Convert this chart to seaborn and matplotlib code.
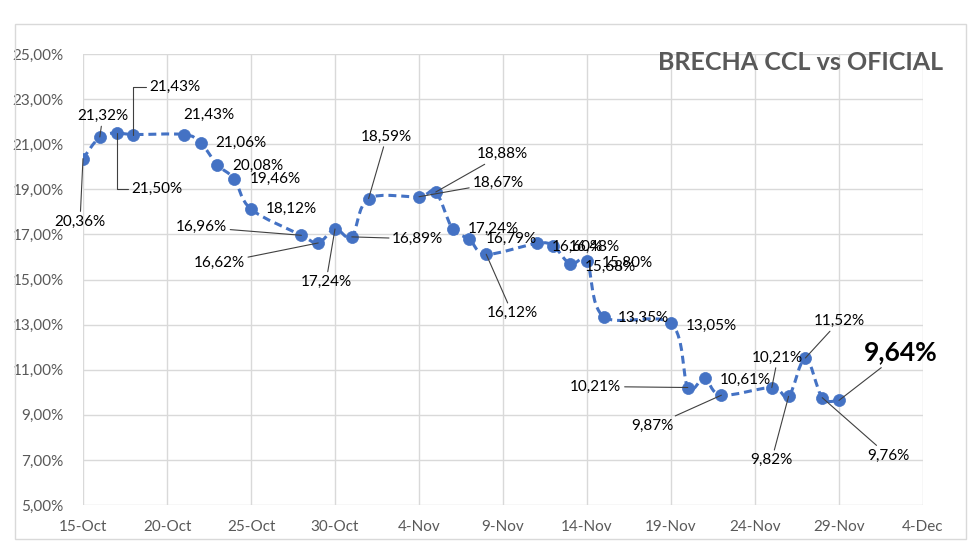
import matplotlib
matplotlib.use("Agg")
import matplotlib.pyplot as plt
import matplotlib.dates as mdates
from matplotlib.path import Path
from matplotlib.patches import PathPatch, Rectangle
import numpy as np
import pandas as pd
import seaborn as sns

# ---------------- data ----------------
dates = ["15-Oct", "16-Oct", "17-Oct", "18-Oct", "21-Oct", "22-Oct", "23-Oct", "24-Oct", "25-Oct",
         "28-Oct", "29-Oct", "30-Oct", "31-Oct", "1-Nov", "4-Nov", "5-Nov", "6-Nov", "7-Nov", "8-Nov",
         "11-Nov", "12-Nov", "13-Nov", "14-Nov", "15-Nov", "19-Nov", "20-Nov", "21-Nov", "22-Nov",
         "25-Nov", "26-Nov", "27-Nov", "28-Nov", "29-Nov"]
brecha = [20.36, 21.32, 21.50, 21.43, 21.43, 21.06, 20.08, 19.46, 18.12,
          16.96, 16.62, 17.24, 16.89, 18.59, 18.67, 18.88, 17.24, 16.79, 16.12,
          16.60, 16.48, 15.68, 15.80, 13.35, 13.05, 10.21, 10.61, 9.87,
          10.21, 9.82, 11.52, 9.76, 9.64]
year = 2019
title = "BRECHA CCL vs OFICIAL"
x_start, x_end = "15-Oct", "4-Dec"
y_ticks = [5, 7, 9, 11, 13, 15, 17, 19, 21, 23, 25]

# ---------------- label placement (pixel offsets from each point) ----------------
label_offsets = [(-3, -63), (3, 21), (40, -56), (41, 48), (25, 20), (40, 0), (40, -1), (41, 0), (40, 0),
                 (-100, 8), (-99, -20), (-9, -53), (66, -2), (18, 62), (79, 14), (67, 38), (41, 0), (42, 0), (26, -59),
                 (41, -3), (41, -1), (40, -3), (40, -1), (40, -1), (40, -2), (-92, 1), (41, -1), (-69, -31),
                 (6, 30), (-17, -64), (34, 37), (66, -58), (62, 48)]
leader_style = ["s", "s", "a", "a", None, None, None, None, None,
                "s", "s", "s", "s", "s", "s", "s", None, None, "s",
                None, None, None, None, None, None, "s", None, "s",
                "s", "s", "s", "s", "s"]

# ---------------- figure ----------------
sns.set_style("white")
plt.rcParams["font.family"] = ["Lato", "DejaVu Sans"]

W, H = 980, 557
fig = plt.figure(figsize=(W / 100, H / 100), dpi=100)
fig.patch.set_facecolor("white")
ax = fig.add_axes([83 / W, 52 / H, 840 / W, 451 / H])

df = pd.DataFrame({
    "fecha": pd.to_datetime([f"{d}-{year}" for d in dates], format="%d-%b-%Y"),
    "brecha": brecha,
})
xnum = mdates.date2num(df["fecha"])
y = np.asarray(brecha, dtype=float)

blue = "#4472C4"

# smoothed dashed line (Excel-style Catmull-Rom Bezier through the data points)
P = np.column_stack([xnum, y])
Pe = np.vstack([P[0], P, P[-1]])
verts = [tuple(P[0])]
codes = [Path.MOVETO]
for i in range(len(P) - 1):
    p0, p1, p2, p3 = Pe[i], Pe[i + 1], Pe[i + 2], Pe[i + 3]
    c1 = p1 + (p2 - p0) / 6.0
    c2 = p2 - (p3 - p1) / 6.0
    verts += [tuple(c1), tuple(c2), tuple(p2)]
    codes += [Path.CURVE4] * 3
patch = PathPatch(Path(verts, codes), facecolor="none", edgecolor=blue, lw=2.2,
                  linestyle=(0, (2.6, 1.6)), zorder=3, capstyle="butt")
ax.add_patch(patch)

sns.scatterplot(data=df, x="fecha", y="brecha", ax=ax, color=blue, s=75,
                edgecolor=blue, linewidth=0.5, zorder=4, legend=False)

# labels
for i, (xv, yv) in enumerate(zip(xnum, y)):
    txt = f"{yv:.2f}%".replace(".", ",")
    dx, dy = label_offsets[i]
    last = i == len(y) - 1
    kw = dict(fontsize=19 if last else 11, fontweight="bold" if last else "normal",
              color="black", ha="center", va="center", zorder=5)
    st = leader_style[i]
    if st is None:
        ax.annotate(txt, xy=(xv, yv), xytext=(dx, dy), textcoords="offset pixels", **kw)
    else:
        cs = "angle,angleA=0,angleB=90,rad=0" if st == "a" else "arc3"
        ax.annotate(txt, xy=(xv, yv), xytext=(dx, dy), textcoords="offset pixels",
                    arrowprops=dict(arrowstyle="-", color="#404040", lw=0.8,
                                    shrinkA=0, shrinkB=0, connectionstyle=cs),
                    **kw)

# axes
x0 = mdates.date2num(pd.to_datetime(f"{x_start}-{year}", format="%d-%b-%Y"))
x1 = mdates.date2num(pd.to_datetime(f"{x_end}-{year}", format="%d-%b-%Y"))
ax.set_xlim(x0, x1)
ax.set_ylim(y_ticks[0], y_ticks[-1])
xt = np.arange(x0, x1 + 0.5, 5)
ax.set_xticks(xt)
ax.set_xticklabels([mdates.num2date(v).strftime("%-d-%b") for v in xt])
ax.set_yticks(y_ticks)
ax.set_yticklabels([f"{v:.2f}%".replace(".", ",") for v in y_ticks])
ax.grid(True, color="#D9D9D9", lw=1.0, zorder=0)
ax.set_axisbelow(True)
for s in ax.spines.values():
    s.set_visible(False)
ax.tick_params(axis="both", length=0, labelsize=11, labelcolor="#595959")
ax.tick_params(axis="y", pad=14)
ax.tick_params(axis="x", pad=11)
ax.set_xlabel("")
ax.set_ylabel("")

fig.text(943 / W, 1 - 63 / H, title, ha="right", va="center", fontsize=18,
         fontweight="bold", color="#595959")

fig.patches.append(Rectangle((15 / W, 1 - 539 / H), 951 / W, 515 / H, transform=fig.transFigure,
                             fill=False, edgecolor="#D9D9D9", lw=1.0))

fig.savefig("out.png", dpi=100, facecolor="white")
